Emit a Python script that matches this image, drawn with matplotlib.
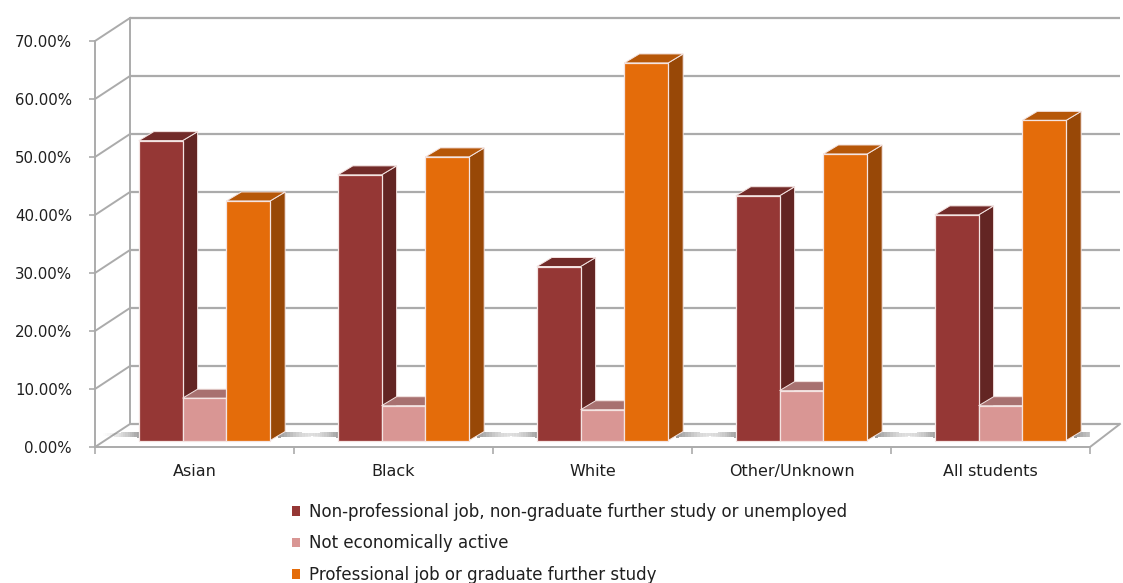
import matplotlib
matplotlib.use("Agg")
import matplotlib.pyplot as plt
from matplotlib.patches import Polygon, Patch, Rectangle
from matplotlib.ticker import FuncFormatter, FixedLocator

# ---- data -------------------------------------------------------------
categories = ["Asian", "Black", "White", "Other/Unknown", "All students"]
non_professional = [51.7, 45.8, 30.0, 42.2, 38.9]
not_active = [7.3, 6.0, 5.3, 8.6, 6.0]
professional = [41.3, 48.9, 65.1, 49.4, 55.2]
series_labels = [
    "Non-professional job, non-graduate further study or unemployed",
    "Not economically active",
    "Professional job or graduate further study",
]
y_ticks = [0, 10, 20, 30, 40, 50, 60, 70]

# face colours: front, side, top
front_colors = ["#953735", "#d99694", "#e46c0a"]
side_colors = ["#632523", "#a66f6e", "#984807"]
top_colors = ["#722b29", "#a87170", "#b65708"]

W, H = 1123, 583
fig = plt.figure(figsize=(W / 100, H / 100), dpi=100)
ax_left, ax_right, ax_top, ax_bottom = 95, 1090, 41, 447
ax = fig.add_axes([ax_left / W, (H - ax_bottom) / H,
                   (ax_right - ax_left) / W, (ax_bottom - ax_top) / H])
ax.set_xlim(-0.5, len(categories) - 0.5)
ax.set_ylim(0, 70)

# pixel -> data helpers for the oblique depth offsets
PX = (len(categories)) / (ax_right - ax_left)
PY = 70 / (ax_bottom - ax_top)
FX, FY = 10 * PX, 6.5 * PY       # bar front plane
BX, BY = 15 * PX, 9 * PY         # bar depth
WXL, WXR, WY = 35 * PX, 30 * PX, 23 * PY   # back wall

grid_c = "#ababab"
x_lo, x_hi = -0.5, len(categories) - 0.5

# back wall grid, side-wall diagonals and floor outline
for v in y_ticks:
    ax.plot([x_lo + WXL, x_hi + WXR], [v + WY, v + WY], color=grid_c,
            lw=1.6, clip_on=False, zorder=1, solid_capstyle="butt")
    ax.plot([x_lo, x_lo + WXL], [v, v + WY], color=grid_c, lw=1.4,
            clip_on=False, zorder=1)
ax.plot([x_lo + WXL, x_lo + WXL], [WY, 70 + WY], color=grid_c, lw=1.4,
        clip_on=False, zorder=1)
ax.plot([x_hi, x_hi + WXR], [0, WY], color=grid_c, lw=1.4,
        clip_on=False, zorder=1)


def floor_streak(x_start, length_px, direction, peak_alpha):
    """Soft horizontal shadow strip on the floor, fading away from a bar."""
    n = 16
    seg = length_px / n
    for j in range(n):
        a = peak_alpha * (1 - j / n) ** 1.5
        xa = x_start + direction * j * seg * PX
        xb = x_start + direction * (j + 1) * seg * PX
        taper = j / n
        ax.add_patch(Rectangle((min(xa, xb), (9.5 + 1.5 * taper) * PY),
                               abs(xb - xa), (5.5 - 2.5 * taper) * PY,
                               facecolor="#6a6a6a", edgecolor="none",
                               alpha=a, zorder=5))


# bars
bw = 0.22
series = [non_professional, not_active, professional]
for k, vals in enumerate(series):
    xs = [i + (k - 1) * bw + FX for i in range(len(categories))]
    bars = ax.bar(xs, vals, width=bw, bottom=FY, color=front_colors[k],
                  edgecolor="#f4e4e2", linewidth=0.9, zorder=10 + 3 * k + 2,
                  label=series_labels[k], clip_on=False)
    for rect, v in zip(bars, vals):
        x0 = rect.get_x()
        x1 = x0 + rect.get_width()
        top = FY + v
        side = Polygon([(x1, FY), (x1 + BX, FY + BY), (x1 + BX, top + BY),
                        (x1, top)], closed=True, facecolor=side_colors[k],
                       edgecolor="#f4e4e2", lw=0.7, zorder=10 + 3 * k,
                       clip_on=False)
        lid = Polygon([(x0, top), (x1, top), (x1 + BX, top + BY),
                       (x0 + BX, top + BY)], closed=True,
                      facecolor=top_colors[k], edgecolor="#f4e4e2", lw=0.7,
                      zorder=10 + 3 * k + 1, clip_on=False)
        ax.add_patch(side)
        ax.add_patch(lid)
        if k == 0:
            floor_streak(x0, 36, -1, 0.6)
        if k == 2:
            floor_streak(x1 + BX * 0.5, 48, +1, 0.65)

# axes styling
for s in ["top", "right"]:
    ax.spines[s].set_visible(False)
for s in ["left", "bottom"]:
    ax.spines[s].set_color(grid_c)
    ax.spines[s].set_linewidth(1.4)
    ax.spines[s].set_zorder(2)

ax.yaxis.set_major_locator(FixedLocator(y_ticks))
ax.yaxis.set_major_formatter(FuncFormatter(lambda v, p: f"{v:.2f}%"))
ax.tick_params(axis="y", length=4, width=1.2, color=grid_c, pad=12.5,
               labelsize=10.8, labelcolor="#1f1f1f")
for lab in ax.get_yticklabels():
    lab.set_family("DejaVu Sans")

ax.set_xticks(range(len(categories)))
ax.set_xticklabels(categories, family="DejaVu Sans", fontsize=11.5,
                   color="#1f1f1f")
ax.set_xticks([i - 0.5 for i in range(len(categories) + 1)], minor=True)
ax.tick_params(axis="x", which="major", length=0, pad=12)
ax.tick_params(axis="x", which="minor", length=5, width=1.2, color=grid_c)
ax.set_facecolor("none")

handles = [Patch(facecolor=c, edgecolor="none") for c in front_colors]
fig.legend(handles, series_labels, loc="upper left",
           bbox_to_anchor=(292 / W, 1 - 503 / H), frameon=False,
           prop={"family": "DejaVu Sans", "size": 12}, handlelength=0.5,
           handleheight=0.5, handletextpad=0.5, labelspacing=0.8,
           labelcolor="#1f1f1f", borderpad=0, borderaxespad=0)

fig.savefig("out.png", dpi=100, facecolor="white")
